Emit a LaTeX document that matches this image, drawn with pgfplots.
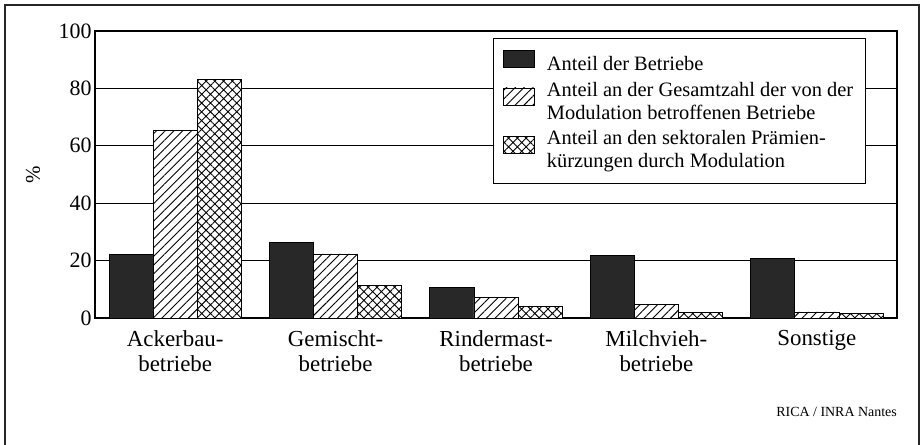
\documentclass[border=0pt]{standalone}
\usepackage{fontspec}
\setmainfont{Liberation Serif}
\usepackage{pgfplots}
\pgfplotsset{compat=1.18}
\usetikzlibrary{patterns.meta}
\definecolor{barblack}{HTML}{282828}
\begin{document}
\begin{tikzpicture}
\path[use as bounding box] (0bp,0bp) rectangle (922bp,445bp);
\draw[line width=1.5bp, black!85] (5bp,-5bp) -- (5bp,440bp) -- (919bp,440bp) -- (919bp,-5bp);
\begin{axis}[
 at={(95bp,127bp)}, anchor=south west,
 scale only axis, width=802bp, height=287bp,
 xmin=-0.5, xmax=4.5, ymin=0, ymax=100,
 ybar=0pt, bar width=0.275,
 xtick={0,...,4},
 xticklabels={Ackerbau-\\betriebe, Gemischt-\\betriebe, Rindermast-\\betriebe, Milchvieh-\\betriebe, Sonstige},
 xticklabel style={align=center, font=\fontsize{23}{25.5}\selectfont, yshift=-9bp},
 ytick={0,20,...,100},
 yticklabel style={font=\fontsize{22}{24}\selectfont},
 /pgf/number format/assume math mode=true,
 major tick length=0pt,
 ymajorgrids, grid style={black, line width=0.8bp},
 axis line style={line width=1.2bp},
 ylabel={\%},
 ylabel style={font=\fontsize{21}{24}\selectfont, at={(axis description cs:-0.0773,0.5)}, anchor=center},
 legend image code/.code={\draw[#1, line width=0.7bp] (0bp,-3.5bp) rectangle (31bp,13.5bp);},
 legend style={at={(0.496,0.9756)}, anchor=north west, draw=black, line width=0.8bp,
   font=\fontsize{20.5}{23}\selectfont, cells={anchor=west, align=left},
   inner xsep=10bp, inner ysep=12bp, row sep=6bp,
   /tikz/every odd column/.append style={column sep=10bp}},
]
\addplot[draw=black, fill=barblack, line width=0.7bp] coordinates {(0,22.2) (1,26.2) (2,10.6) (3,21.8) (4,20.9)};
\addlegendentry{Anteil der Betriebe}
\addplot[draw=black, fill=white, line width=0.7bp, postaction={pattern={Lines[angle=45,distance=6.2bp,line width=0.9bp]}}] coordinates {(0,65.5) (1,22.3) (2,7.2) (3,4.8) (4,2.1)};
\addlegendentry{Anteil an der Gesamtzahl der von der\\Modulation betroffenen Betriebe}
\addplot[draw=black, fill=white, line width=0.7bp, postaction={pattern={Hatch[angle=45,distance=6.2bp,line width=0.9bp]}}] coordinates {(0,83.2) (1,11.3) (2,4.1) (3,2.0) (4,1.6)};
\addlegendentry{Anteil an den sektoralen Prämien-\\kürzungen durch Modulation}
\end{axis}
\node[anchor=base east, font=\fontsize{14}{16}\selectfont, inner sep=0pt] at (897bp,29bp) {RICA / INRA Nantes};
\end{tikzpicture}
\end{document}
